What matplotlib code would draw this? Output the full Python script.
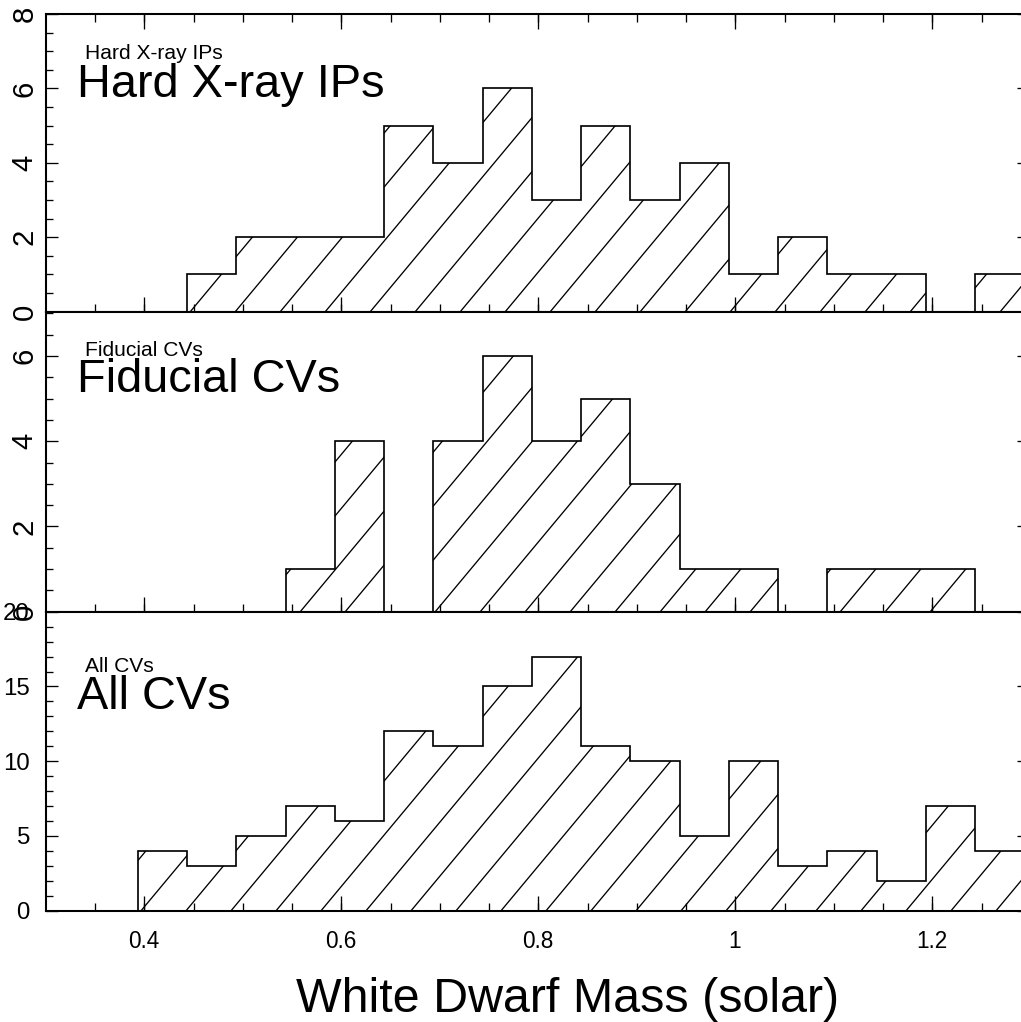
import numpy as np
import matplotlib
matplotlib.use("Agg")
import matplotlib.pyplot as plt
import matplotlib.hatch as mhatch
from matplotlib.path import Path

# ---- data (counts per 0.05 Msun bin) ----
bin_width = 0.05
ips_start = 0.45
ips_counts = [1, 2, 2, 2, 5, 4, 6, 3, 5, 3, 4, 1, 2, 1, 1, 0, 1]
fid_start = 0.55
fid_counts = [1, 4, 0, 4, 6, 4, 5, 3, 1, 1, 0, 1, 1, 1]
all_start = 0.40
all_counts = [4, 3, 5, 7, 6, 12, 11, 15, 17, 11, 10, 5, 10, 3, 4, 2, 7, 4]

panel_names = ["Hard X-ray IPs", "Fiducial CVs", "All CVs"]
x_tick_values = [0.4, 0.6, 0.8, 1.0, 1.2]
x_tick_labels = ["0.4", "0.6", "0.8", "1", "1.2"]
xlabel = "White Dwarf Mass (solar)"


# ---- steeper, sparser "/" hatch (slope 6/5, 6 lines per hatch cell) ----
class SteepHatch(mhatch.HatchPatternBase):
    P, Q = 6, 5

    def __init__(self, hatch, density):
        self.num_lines = (self.P * 2 + 1) if hatch.count("/") else 0
        self.num_vertices = self.num_lines * 2

    def set_vertices_and_codes(self, vertices, codes):
        ks = np.arange(-self.P, self.P + 1)[: self.num_lines]
        a = ks / self.P
        vertices[0::2, 0] = a
        vertices[0::2, 1] = 0.0
        vertices[1::2, 0] = a + self.Q / self.P
        vertices[1::2, 1] = 1.0
        codes[0::2] = Path.MOVETO
        codes[1::2] = Path.LINETO


mhatch._hatch_types[:] = [SteepHatch if t is mhatch.NorthEastHatch else t
                          for t in mhatch._hatch_types]

DPI = 270
W, H = 1021, 1022
plt.rcParams["hatch.linewidth"] = 0.35
plt.rcParams["font.family"] = ["Liberation Sans", "DejaVu Sans"]

fig = plt.figure(figsize=(W / DPI, H / DPI), dpi=DPI)


def add_px_axes(l, t, r, b):
    return fig.add_axes([l / W, 1 - b / H, (r - l) / W, (b - t) / H])


XL, XR = 46, 1029
ax_top = add_px_axes(XL, 14, XR, 311.7)
ax_mid = add_px_axes(XL, 311.7, XR, 611.7)
ax_bot = add_px_axes(XL, 611.7, XR, 910.7)
axes = [ax_top, ax_mid, ax_bot]

series = [(ips_start, ips_counts), (fid_start, fid_counts), (all_start, all_counts)]
ylims = [(0, 8), (0, 7.04), (0, 20)]
yticks_major = [[0, 2, 4, 6, 8], [0, 2, 4, 6], [0, 5, 10, 15, 20]]
yticks_minor = [np.arange(0, 8.01, 0.5), np.arange(0, 7.01, 0.5), np.arange(0, 20.01, 1)]
small_pos = [6.78, 6.0, 15.97]
big_pos = [5.76, 5.16, 13.5]

TICK_SHIFT = 0.006
xmaj = [v + TICK_SHIFT for v in x_tick_values]
xmin = np.arange(0.3066 + 0.05, 1.30, 0.05)

for i, ax in enumerate(axes):
    start, counts = series[i]
    edges = np.round(start + bin_width * np.arange(len(counts) + 1), 3)
    ax.stairs(counts, edges, fill=True, facecolor="none", edgecolor="black",
              hatch="/", linewidth=0.45)
    ax.set_xlim(0.3066, 1.3046)
    ax.set_ylim(*ylims[i])
    for s in ax.spines.values():
        s.set_linewidth(0.55)
    ax.set_xticks(xmaj)
    ax.set_xticks(xmin, minor=True)
    ax.set_yticks(yticks_major[i])
    ax.set_yticks(yticks_minor[i], minor=True)
    ax.tick_params(axis="both", which="both", direction="in", width=0.35,
                   left=True, right=True, bottom=True, top=(i == 0))
    ax.tick_params(axis="x", which="major", length=4.0)
    ax.tick_params(axis="x", which="minor", length=2.1)
    ax.tick_params(axis="y", which="major", length=3.2)
    ax.tick_params(axis="y", which="minor", length=1.9)
    if i == 2:
        ax.set_xticklabels(x_tick_labels)
        ax.tick_params(axis="x", labelbottom=True, pad=5.2, labelsize=6.0)
        ax.tick_params(axis="y", pad=4.3, labelsize=6.4)
    else:
        ax.tick_params(axis="x", labelbottom=False)
        ax.tick_params(axis="y", pad=2.0, labelsize=7.8, labelrotation=90)
        for lab in ax.get_yticklabels():
            lab.set_va("center")
    ax.text(0.346, small_pos[i], panel_names[i], fontsize=5.6,
            ha="left", va="baseline")
    ax.text(0.338, big_pos[i], panel_names[i], fontsize=12.5,
            ha="left", va="baseline")

fig.text(568 / W, 1 - 1012 / H, xlabel, fontsize=12.9, ha="center", va="baseline")

fig.savefig("out.png", dpi=DPI)
